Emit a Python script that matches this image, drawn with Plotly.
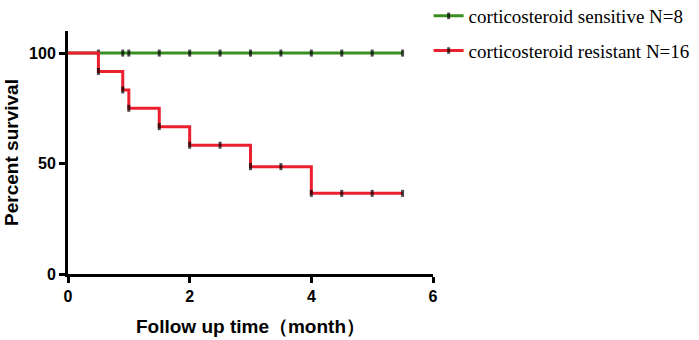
import plotly.graph_objects as go

# Data
sens_time = [0, 0.5, 0.9, 1.0, 1.5, 2.0, 2.5, 3.0, 3.5, 4.0, 4.5, 5.0, 5.5]
sens_surv = [100, 100, 100, 100, 100, 100, 100, 100, 100, 100, 100, 100, 100]
res_time = [0, 0.5, 0.9, 1.0, 1.5, 2.0, 2.5, 3.0, 3.5, 4.0, 4.5, 5.0, 5.5]
res_surv = [100, 91.7, 83.3, 75.0, 66.7, 58.3, 58.3, 48.6, 48.6, 36.5, 36.5, 36.5, 36.5]
sens_name = "corticosteroid sensitive N=8"
res_name = "corticosteroid resistant N=16"
x_ticks = [0, 2, 4, 6]
y_ticks = [0, 50, 100]

GREEN = "#3B8F22"
RED = "#EC1F2E"


def sizes(t):
    return [0 if v == 0 else 5 for v in t]


fig = go.Figure()
fig.add_trace(go.Scatter(
    x=sens_time, y=sens_surv, name=sens_name, mode="lines+markers",
    line=dict(color=GREEN, width=3, shape="hv"),
    marker=dict(symbol="line-ns", size=sizes(sens_time), color="black",
                line=dict(color="black", width=3)),
    legendgroup="a", cliponaxis=False,
))
fig.add_trace(go.Scatter(
    x=res_time, y=res_surv, name=res_name, mode="lines+markers",
    line=dict(color=RED, width=3, shape="hv"),
    marker=dict(symbol="line-ns", size=sizes(res_time), color="black",
                line=dict(color="black", width=3)),
    legendgroup="b", cliponaxis=False,
))

axis_font = dict(family="Arial, Liberation Sans, sans-serif", size=16, color="black", weight="bold")
title_font = dict(family="Arial, Liberation Sans, sans-serif", size=19, color="black", weight="bold")

fig.update_layout(
    width=699, height=340,
    margin=dict(l=68, r=266, t=31, b=66, autoexpand=False),
    paper_bgcolor="white", plot_bgcolor="white",
    showlegend=True,
    legend=dict(
        x=0.988, y=1.14, xanchor="left", yanchor="top",
        font=dict(family="Times New Roman, Liberation Serif, serif", size=19, color="black"),
        traceorder="grouped", tracegroupgap=7,
        bgcolor="rgba(0,0,0,0)",
    ),
    xaxis=dict(
        range=[0, 6], tickvals=x_ticks, ticks="outside", ticklen=6, tickwidth=3,
        tickcolor="black", showline=True, linewidth=3, linecolor="black",
        showgrid=False, zeroline=False, tickfont=axis_font,
        title=dict(text="Follow up time（month）", font=title_font, standoff=16),
    ),
    yaxis=dict(
        range=[0, 110], tickvals=y_ticks, ticks="outside", ticklen=6, tickwidth=3,
        tickcolor="black", showline=True, linewidth=3, linecolor="black",
        showgrid=False, zeroline=False, tickfont=axis_font,
        title=dict(text="Percent survival", font=title_font, standoff=6),
    ),
)

# remove the default 8px page margin so the 699x340 figure fills the window
fig.write_html("out.html",
               config={"displayModeBar": False},
               post_script="document.body.style.margin='0';document.body.style.overflow='hidden';")
